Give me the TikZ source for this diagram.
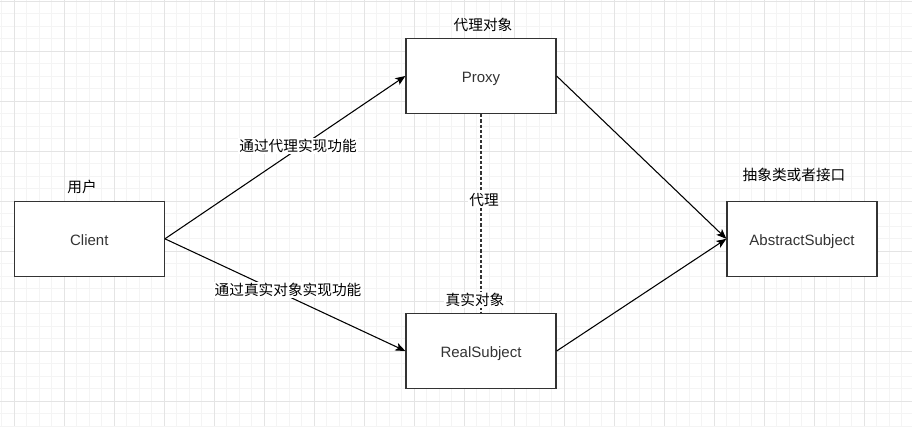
\documentclass[tikz,border=0pt]{standalone}
\usepackage{fontspec}
\setmainfont{Liberation Sans}
\newfontfamily\cjk{Noto Sans CJK SC}
\usetikzlibrary{arrows.meta}
\definecolor{minorgrid}{HTML}{F4F4F4}
\definecolor{majorgrid}{HTML}{E4E4E4}
\definecolor{boxtext}{HTML}{333333}
\definecolor{boxline}{HTML}{333333}
\tikzset{
  box/.style={draw=boxline, line width=0.95pt, fill=white, minimum width=112.5pt, minimum height=56.25pt, inner sep=0pt, text height=10.3pt, text depth=0pt, text=boxtext, font=\fontsize{11.25pt}{13pt}\selectfont},
  cjklabel/.style={font=\cjk\fontsize{11pt}{13pt}\selectfont, inner sep=1pt, text=black},
  edgelabel/.style={cjklabel, fill=white},
  conn/.style={draw=black, line width=0.8pt, -{Stealth[length=7.5pt, width=6pt, inset=1.9pt]}},
}
\begin{document}
\begin{tikzpicture}[x=0.75pt,y=-0.75pt]
\useasboundingbox (0,0) rectangle (912,426);
\fill[white] (0,0) rectangle (912,426);
% grid
\foreach \i in {-1,...,72} {
  \draw[minorgrid, line width=0.6pt] ({14.3+12.5*\i},0) -- ({14.3+12.5*\i},426);
}
\foreach \j in {0,...,34} {
  \draw[minorgrid, line width=0.6pt] (0,{1.3+12.5*\j}) -- (912,{1.3+12.5*\j});
}
\foreach \i in {0,...,18} {
  \draw[majorgrid, line width=0.7pt] ({14.3+50*\i},0) -- ({14.3+50*\i},426);
}
\foreach \j in {0,...,8} {
  \draw[majorgrid, line width=0.7pt] (0,{1.3+50*\j}) -- (912,{1.3+50*\j});
}
% boxes
\node[box] (client) at (89.3,238.8) {Client};
\node[box] (proxy) at (481,76) {Proxy};
\node[box] (real) at (481,351) {RealSubject};
\node[box] (abstract) at (802,238.8) {AbstractSubject};
% titles
\node[cjklabel] (tclient) at (82,187) {用户};
\node[cjklabel] (tproxy) at (483,25) {代理对象};
\node[cjklabel] (tabstract) at (794,175) {抽象类或者接口};
% dashed relation
\draw[boxline, line width=0.8pt, dash pattern=on 2.4pt off 1.5pt] (proxy.south) -- (real.north);
\node[edgelabel] (ldash) at (484,200) {代理};
\node[cjklabel, fill=white] (treal) at (475,300) {真实对象};
% connectors
\draw[conn] (client.east) -- (proxy.west);
\draw[conn] (client.east) -- (real.west);
\draw[conn] (proxy.east) -- (abstract.west);
\draw[conn] (real.east) -- (abstract.west);
\node[edgelabel] (l1) at (298,146) {通过代理实现功能};
\node[edgelabel] (l2) at (288,290) {通过真实对象实现功能};
\end{tikzpicture}
\end{document}
